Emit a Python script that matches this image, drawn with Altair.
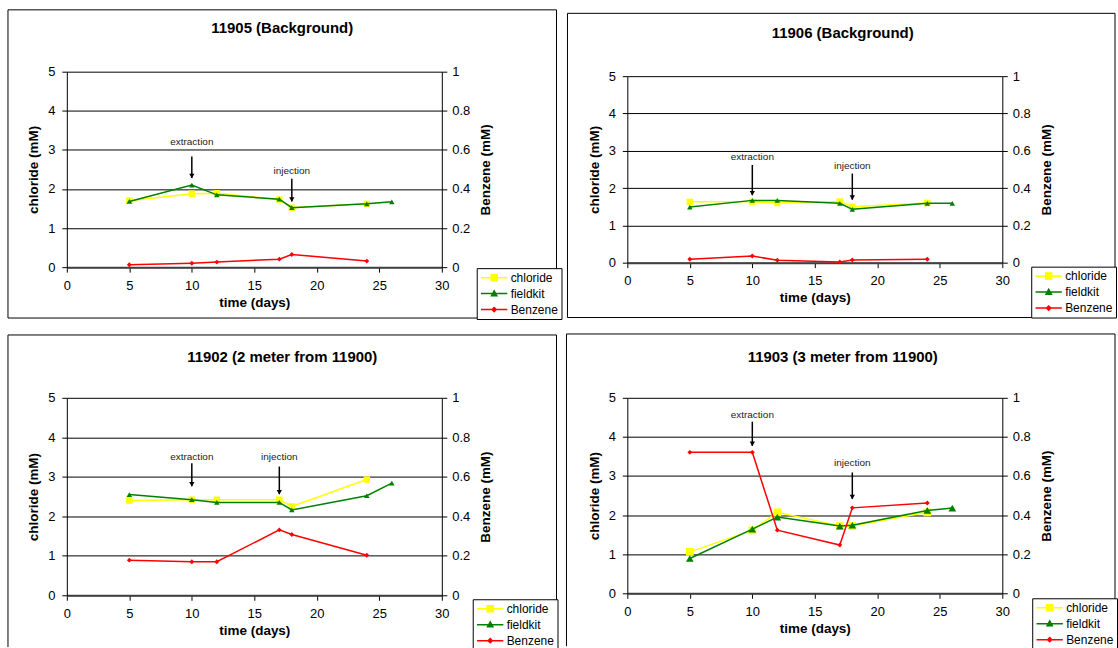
import altair as alt
import pandas as pd

FONT = "Liberation Sans, Arial, sans-serif"

# ---------------- data ----------------
SERIES = ["chloride", "fieldkit", "Benzene"]
COLORS = ["#FFFF00", "#008000", "#FF0000"]
TITLES = ["11905 (Background)", "11906 (Background)",
          "11902 (2 meter from 11900)", "11903 (3 meter from 11900)"]

X_TICKS = [0, 5, 10, 15, 20, 25, 30]
CL_TICKS = [0, 1, 2, 3, 4, 5]
BZ_TICKS = [0, 0.2, 0.4, 0.6, 0.8, 1]

days_cl = [5, 10, 12, 17, 18, 24]
days_fk = [5, 10, 12, 17, 18, 24, 26]
days_bz = [5, 10, 12, 17, 18, 24]

cl_11905 = [1.70, 1.88, 1.89, 1.73, 1.52, 1.62]
fk_11905 = [1.68, 2.10, 1.85, 1.74, 1.52, 1.62, 1.67]
bz_11905 = [0.012, 0.020, 0.026, 0.041, 0.065, 0.031]

cl_11906 = [1.63, 1.63, 1.60, 1.64, 1.50, 1.60]
fk_11906 = [1.49, 1.67, 1.67, 1.59, 1.43, 1.59, 1.59]
bz_11906 = [0.018, 0.036, 0.013, 0.004, 0.014, 0.018]

cl_11902 = [2.40, 2.42, 2.42, 2.42, 2.25, 2.93]
fk_11902 = [2.55, 2.42, 2.35, 2.35, 2.16, 2.52, 2.84]
bz_11902 = [0.178, 0.170, 0.170, 0.331, 0.308, 0.203]

cl_11903 = [1.06, 1.61, 2.07, 1.72, 1.72, 2.07]
fk_11903 = [0.89, 1.64, 1.95, 1.72, 1.74, 2.12, 2.18]
bz_11903 = [0.721, 0.721, 0.323, 0.247, 0.437, 0.462]

# annotations: label, day, text level, arrow start, arrow end (chloride units)
ann_labels = ["extraction", "injection"]
ann_day_11905 = [10, 18]; ann_txt_11905 = [3.21, 2.47]; ann_y0_11905 = [2.83, 2.26]; ann_y1_11905 = [2.28, 1.68]
ann_day_11906 = [10, 18]; ann_txt_11906 = [2.82, 2.60]; ann_y0_11906 = [2.62, 2.39]; ann_y1_11906 = [1.81, 1.69]
ann_day_11902 = [10, 17]; ann_txt_11902 = [3.51, 3.51]; ann_y0_11902 = [3.34, 3.26]; ann_y1_11902 = [2.76, 2.56]
ann_day_11903 = [10, 18]; ann_txt_11903 = [4.56, 3.34]; ann_y0_11903 = [4.39, 3.09]; ann_y1_11903 = [3.77, 2.41]

# legend symbols: line segment + marker (custom SVG paths)
LEGEND_PATHS = [
    "M-2.4,0H2.4M-0.55,-0.55H0.55V0.55H-0.55Z",
    "M-2.4,0H2.4M0,-0.5L0.48,0.38H-0.48Z",
    "M-2.4,0H2.4M0,-0.38L0.38,0L0,0.38L-0.38,0Z",
]


def x_enc():
    return alt.X("day:Q", scale=alt.Scale(domain=[0, 30], nice=False),
                 axis=alt.Axis(values=X_TICKS, title="time (days)", grid=False,
                               labelFlush=False, labelPadding=7, titlePadding=3, tickSize=5,
                               domainWidth=2, domainColor="#404040"))


def yl_enc(field):
    return alt.Y(f"{field}:Q", scale=alt.Scale(domain=[0, 5], nice=False),
                 axis=alt.Axis(values=CL_TICKS, format="d", title="chloride (mM)",
                               orient="left", grid=True, gridColor="black", labelFlush=False,
                               labelPadding=7, titlePadding=7, tickSize=5))


def yr_enc():
    return alt.Y("val:Q", scale=alt.Scale(domain=[0, 1], nice=False),
                 axis=alt.Axis(values=BZ_TICKS, format="~g", title="Benzene (mM)",
                               orient="right", grid=False, titleAngle=270,
                               titleBaseline="top", labelFlush=False,
                               labelPadding=5, titlePadding=9, tickSize=5))


def border_layers(df_one, bx0, bx1, by0, by1, with_bottom):
    sides = [
        alt.Chart(df_one).mark_rule(color="black", strokeWidth=1).encode(
            x=alt.value(bx0), x2=alt.value(bx1), y=alt.value(by0)),
        alt.Chart(df_one).mark_rule(color="black", strokeWidth=1).encode(
            x=alt.value(bx0), y=alt.value(by0), y2=alt.value(by1)),
        alt.Chart(df_one).mark_rule(color="black", strokeWidth=1).encode(
            x=alt.value(bx1), y=alt.value(by0), y2=alt.value(by1)),
    ]
    if with_bottom:
        sides.append(alt.Chart(df_one).mark_rule(color="black", strokeWidth=1).encode(
            x=alt.value(bx0), x2=alt.value(bx1), y=alt.value(by1)))
    return sides


def panel(title, cl, fk, bz, ann, h, border, with_bottom, leg_xy, sq_size, tri_size, title_off):
    df_cl = pd.DataFrame({"day": days_cl, "val": cl})
    df_fk = pd.DataFrame({"day": days_fk, "val": fk})
    df_bz = pd.DataFrame({"day": days_bz, "val": bz})
    day, ytxt, y0, y1 = ann
    df_ann = pd.DataFrame({"label": ann_labels, "day": day, "ytxt": ytxt, "y0": y0, "y1": y1})
    df_leg = pd.DataFrame({"series": SERIES, "day": [5, 5, 5], "val": [1, 1, 1]})
    df_one = pd.DataFrame({"k": [0]})

    frame = border_layers(df_one, *border, with_bottom)

    cl_line = alt.Chart(df_cl).mark_line(color=COLORS[0], strokeWidth=1.5).encode(x=x_enc(), y=yl_enc("val"))
    cl_pts = alt.Chart(df_cl).mark_point(shape="square", filled=True, color=COLORS[0],
                                         size=sq_size, opacity=1).encode(x=x_enc(), y=yl_enc("val"))
    fk_line = alt.Chart(df_fk).mark_line(color=COLORS[1], strokeWidth=1.5).encode(x=x_enc(), y=yl_enc("val"))
    fk_pts = alt.Chart(df_fk).mark_point(shape="triangle-up", filled=True, color=COLORS[1],
                                         size=tri_size, opacity=1).encode(x=x_enc(), y=yl_enc("val"))

    arr = alt.Chart(df_ann).mark_rule(color="black", strokeWidth=1.5).encode(
        x=x_enc(), y=yl_enc("y0"), y2="y1:Q")
    head = alt.Chart(df_ann).mark_point(shape="triangle-down", filled=True, color="black",
                                        size=28, opacity=1, yOffset=-2).encode(x=x_enc(), y=yl_enc("y1"))
    txt = alt.Chart(df_ann).mark_text(font=FONT, fontSize=10, color="#222222",
                                      baseline="middle").encode(
        x=x_enc(), y=yl_enc("ytxt"), text="label:N")

    leg_props = dict(orient="none", legendX=leg_xy[0], legendY=leg_xy[1], title=None,
                     direction="vertical", strokeColor="black", fillColor="white",
                     padding=3, rowPadding=3, symbolSize=121, symbolOffset=8,
                     labelOffset=10, symbolStrokeWidth=1.5, symbolOpacity=1,
                     labelFont=FONT, labelFontSize=12, labelColor="black",
                     cornerRadius=0)
    legend = alt.Chart(df_leg).mark_point(filled=True, opacity=0).encode(
        x=x_enc(), y=yl_enc("val"),
        fill=alt.Fill("series:N", scale=alt.Scale(domain=SERIES, range=COLORS),
                      legend=alt.Legend(**leg_props)),
        stroke=alt.Stroke("series:N", scale=alt.Scale(domain=SERIES, range=COLORS),
                          legend=alt.Legend(**leg_props)),
        shape=alt.Shape("series:N", scale=alt.Scale(domain=SERIES, range=LEGEND_PATHS),
                        legend=alt.Legend(**leg_props)),
    )

    left = alt.layer(*frame, cl_line, cl_pts, fk_line, fk_pts, arr, head, txt, legend)

    bz_line = alt.Chart(df_bz).mark_line(color=COLORS[2], strokeWidth=1.5).encode(x=x_enc(), y=yr_enc())
    bz_pts = alt.Chart(df_bz).mark_point(shape="diamond", filled=True, color=COLORS[2],
                                         size=24, opacity=1).encode(x=x_enc(), y=yr_enc())
    right = alt.layer(bz_line, bz_pts)

    return alt.layer(left, right).resolve_scale(y="independent").properties(
        width=376, height=h,
        title=alt.TitleParams(title, font=FONT, fontSize=15, fontWeight="bold",
                              color="black", anchor="middle", offset=title_off, dx=28))


p1 = panel(TITLES[0], cl_11905, fk_11905, bz_11905,
           (ann_day_11905, ann_txt_11905, ann_y0_11905, ann_y1_11905),
           196, (-59, 491, -62, 247), True, (411, 197), 42, 30, -27)
p2 = panel(TITLES[1], cl_11906, fk_11906, bz_11906,
           (ann_day_11906, ann_txt_11906, ann_y0_11906, ann_y1_11906),
           187, (-60, 489, -63, 242), True, (405, 191), 42, 30, -28)
p3 = panel(TITLES[2], cl_11902, fk_11902, bz_11902,
           (ann_day_11902, ann_txt_11902, ann_y0_11902, ann_y1_11902),
           198, (-59, 491, -63, 250), False, (407, 202), 42, 30, -31)
p4 = panel(TITLES[3], cl_11903, fk_11903, bz_11903,
           (ann_day_11903, ann_txt_11903, ann_y0_11903, ann_y1_11903),
           196, (-61, 489, -64, 249), False, (406, 201), 60, 60, -32)

chart = alt.concat(p1, p2, p3, p4, columns=2,
                   spacing={"row": 131, "column": 186},
                   bounds="flush", center=True).resolve_scale(
    fill="independent", stroke="independent", shape="independent"
).properties(
    padding={"left": 7, "top": 8, "right": 0, "bottom": 0},
    background="white",
).configure_axis(
    labelFont=FONT, labelFontSize=13, labelColor="black",
    titleFont=FONT, titleFontSize=13.5, titleFontWeight="bold", titleColor="black",
    tickColor="black", domainColor="black", gridColor="black", gridWidth=1,
).configure_view(stroke="transparent")

chart.save("out.html", embed_options={"renderer": "svg", "actions": False})
